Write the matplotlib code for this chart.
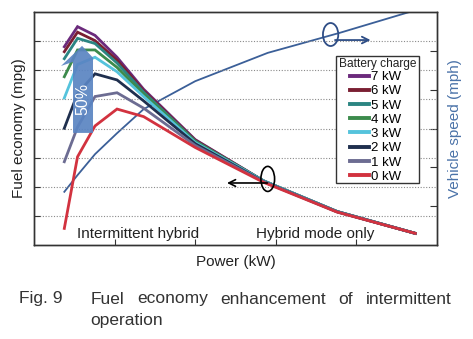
import matplotlib
matplotlib.use("Agg")
import matplotlib.pyplot as plt
from matplotlib.patches import Ellipse, Polygon, Rectangle

plt.rcParams['font.family'] = ['Liberation Sans', 'DejaVu Sans']

# power operating points shared by every battery-charge curve
power = [0.376, 0.54, 0.757, 1.03, 1.36, 2.0, 2.85, 3.76, 4.73]

charge_labels = ["7 kW", "6 kW", "5 kW", "4 kW", "3 kW", "2 kW", "1 kW", "0 kW"]
charge_colors = ["#6b2a7c", "#7a1f32", "#2b8582", "#3c8b4c",
                 "#55c3dc", "#1f2f4e", "#6c6c92", "#d2323f"]
fuel_economy = [
    [6.81, 7.50, 7.20, 6.45, 5.35, 3.62, 2.20, 1.15, 0.40],
    [6.64, 7.31, 7.02, 6.35, 5.30, 3.60, 2.20, 1.15, 0.40],
    [6.40, 7.10, 6.92, 6.25, 5.25, 3.57, 2.20, 1.15, 0.40],
    [5.78, 6.70, 6.70, 6.10, 5.18, 3.55, 2.20, 1.15, 0.40],
    [5.05, 6.20, 6.45, 5.95, 5.10, 3.52, 2.20, 1.15, 0.40],
    [4.01, 5.20, 5.88, 5.67, 4.95, 3.48, 2.18, 1.14, 0.40],
    [2.86, 4.05, 5.10, 5.23, 4.70, 3.42, 2.17, 1.14, 0.40],
    [0.57, 3.03, 4.09, 4.67, 4.41, 3.35, 2.15, 1.13, 0.40],
]

# vehicle speed on the right axis
speed_power = [0.376, 0.54, 0.757, 1.03, 1.36, 2.0, 2.9, 3.8, 4.75]
vehicle_speed = [1.37, 1.80, 2.34, 2.88, 3.50, 4.22, 4.95, 5.47, 6.06]

W, H = 473, 339
fig = plt.figure(figsize=(W / 100, H / 100), dpi=100)
ax = fig.add_axes([0.0719, 0.2773, 0.852, 0.687])
ax.set_xlim(0, 5)
ax.set_ylim(0, 8)

for y in range(1, 8):
    ax.axhline(y, color="#8a8a8a", lw=0.8, ls=(0, (1, 1.5)), zorder=0)

for vals, col, lab in zip(fuel_economy, charge_colors, charge_labels):
    ax.plot(power, vals, color=col, lw=2.0, label=lab, solid_joinstyle="miter")

# 50 % enhancement arrow
arrow = Polygon([(0.484, 3.85), (0.732, 3.85), (0.732, 6.43), (0.596, 6.84),
                 (0.335, 6.15), (0.484, 6.29)],
                closed=True, facecolor="#5a84c2", edgecolor="none",
                alpha=0.92, zorder=5)
ax.add_patch(arrow)
ax.text(0.61, 5.0, "50%", rotation=90, color="white", fontsize=11.5,
        ha="center", va="center", zorder=6)

ax2 = ax.twinx()
ax2.set_ylim(0, 6)
ax2.plot(speed_power, vehicle_speed, color="#3b5f98", lw=1.3)

# ellipse + arrow markers telling which axis each curve uses
ax.add_patch(Ellipse((2.90, 2.27), 0.17, 0.86, fill=False, ec="black",
                     lw=1.2, zorder=7))
ax.annotate("", xy=(2.36, 2.13), xytext=(2.93, 2.13),
            arrowprops=dict(arrowstyle="->", color="black", lw=1.2,
                            mutation_scale=12), zorder=7)
ax.add_patch(Ellipse((3.68, 7.23), 0.19, 0.79, fill=False, ec="#2e4d86",
                     lw=1.3, zorder=7))
ax.annotate("", xy=(4.21, 7.04), xytext=(3.70, 7.04),
            arrowprops=dict(arrowstyle="->", color="#2e4d86", lw=1.3,
                            mutation_scale=12), zorder=7)

ax.text(0.53, 0.25, "Intermittent hybrid", fontsize=11, color="#222222")
ax.text(2.76, 0.25, "Hybrid mode only", fontsize=11, color="#222222")

ax.set_xticks([1, 2, 3, 4])
ax.set_yticks(range(1, 8))
ax.tick_params(axis="both", direction="in", length=4, labelbottom=False,
               labelleft=False, color="#333333")
ax2.set_yticks([1, 2, 3, 4, 5])
ax2.tick_params(axis="y", direction="in", length=5, labelright=False,
                color="#333333")
for a in (ax, ax2):
    for sp in a.spines.values():
        sp.set_color("#333333")
        sp.set_linewidth(1.0)

ax.set_xlabel("Power (kW)", fontsize=11, color="#222222", labelpad=7)
ax.set_ylabel("Fuel economy (mpg)", fontsize=11, color="#222222", labelpad=6)
ax2.set_ylabel("Vehicle speed (mph)", fontsize=11, color="#4a72a8", labelpad=8)

# legend box: frame and title drawn separately so the entries can sit
# indented under the title
box_l, box_t, box_r, box_b = 336, 56, 419, 183
ax.add_patch(Rectangle((box_l / W, 1 - box_b / H), (box_r - box_l) / W,
                       (box_b - box_t) / H, transform=fig.transFigure,
                       facecolor="white", edgecolor="#333333", lw=1.0,
                       clip_on=False, zorder=9))
ax.text(377.5 / W, 1 - 64.5 / H, "Battery charge", transform=fig.transFigure,
        fontsize=8.6, color="#222222", ha="center", va="center", zorder=11)
leg = ax.legend(loc="upper left", bbox_to_anchor=(350 / W, 1 - 71 / H),
                bbox_transform=fig.transFigure, fontsize=9.5,
                handlelength=1.45, handletextpad=0.15, labelspacing=0.15,
                borderpad=0, borderaxespad=0, frameon=False)
leg.set_zorder(10)
for h in leg.legend_handles:
    h.set_linewidth(2.8)
ax2.set_zorder(ax.get_zorder() - 1)
ax.patch.set_visible(False)

# figure caption; first line is justified between x0 and x1 (pixels)
cap_size = 12.5
cap_color = "#333333"
cap_y = 1 - 299 / H
fig.text(19 / W, cap_y, "Fig. 9", fontsize=cap_size, color=cap_color,
         va="center")
words = ["Fuel", "economy", "enhancement", "of", "intermittent"]
x0, x1 = 90.7, 451.7
renderer = fig.canvas.get_renderer()
texts = [fig.text(0, cap_y, w, fontsize=cap_size, color=cap_color, va="center")
         for w in words]
widths = [t.get_window_extent(renderer).width for t in texts]
gap = (x1 - x0 - sum(widths)) / (len(words) - 1)
x = x0
for t, w in zip(texts, widths):
    t.set_x(x / W)
    x += w + gap
fig.text(x0 / W, 1 - 320 / H, "operation", fontsize=cap_size,
         color=cap_color, va="center")

fig.savefig("out.png", dpi=100)
